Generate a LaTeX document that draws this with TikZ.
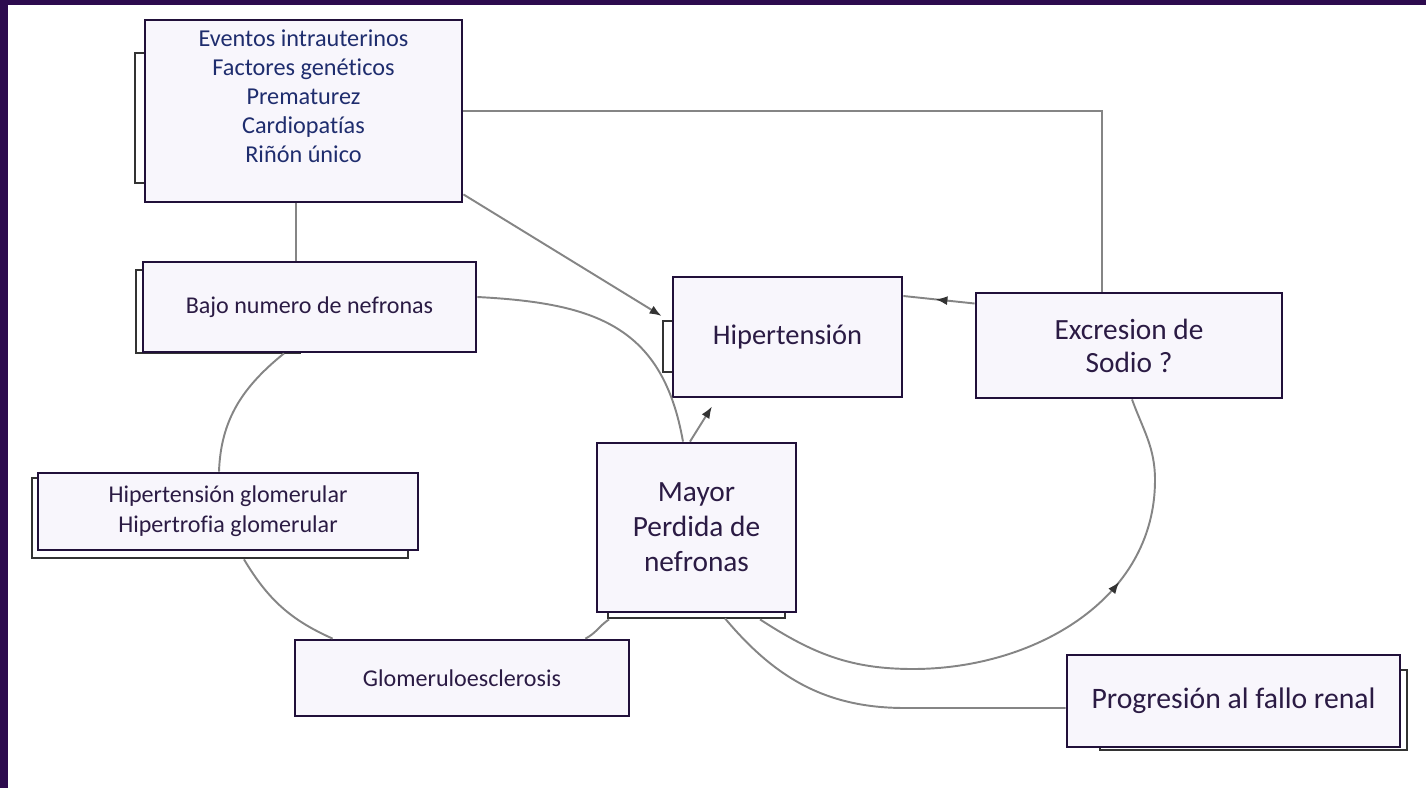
\documentclass[tikz,border=0pt]{standalone}
\usepackage{fontspec}
\setmainfont{Carlito}[Ligatures=NoCommon]
\usetikzlibrary{arrows.meta,decorations.markings,positioning}

\definecolor{framepurple}{HTML}{2D0B4E}
\definecolor{boxline}{HTML}{21103A}
\definecolor{boxfill}{HTML}{F8F6FC}
\definecolor{boxtext}{HTML}{2B1B44}
\definecolor{listtext}{HTML}{1F2D6E}
\definecolor{linkgray}{HTML}{858585}

\tikzset{
  causebox/.style={draw=boxline, line width=1.6pt, fill=boxfill, text=boxtext, align=center, inner sep=0pt},
  shadowbox/.style={draw=black!80, line width=0.9pt, fill=white},
  link/.style={draw=linkgray, line width=1.1pt},
  tipend/.style={-{Latex[length=0.24cm,width=0.18cm,color=black!80]}},
  tipmid/.style={postaction={decorate}, decoration={markings, mark=at position #1 with {\arrow{Latex[length=0.24cm,width=0.18cm,color=black!80]}}}},
}

\begin{document}
\begin{tikzpicture}
  \useasboundingbox (0,0) rectangle (28.52,-15.76);
  \fill [framepurple] (0,0) rectangle (28.52,-0.1);
  \fill [framepurple] (0,0) rectangle (0.16,-15.76);

  % cajas de fondo
  \draw [shadowbox] (2.70,-1.06) rectangle (4.0,-3.66);
  \draw [shadowbox] (2.72,-5.40) rectangle (6.0,-7.06);
  \draw [shadowbox] (13.26,-6.42) rectangle (14.4,-7.44);
  \draw [shadowbox] (0.64,-9.56) rectangle (8.16,-11.16);
  \draw [shadowbox] (12.16,-9.0) rectangle (15.70,-12.36);
  \draw [shadowbox] (22.0,-13.4) rectangle (28.14,-15.0);

  \node [causebox, text=listtext] (ev) at (6.07,-2.22)
    {\parbox[c][3.64cm][t]{6.34cm}{\centering\fontsize{13.8}{16.5}\selectfont\vspace*{5.5pt}%
      Eventos intrauterinos\\Factores genéticos\\Prematurez\\Cardiopatías\\Riñón único}};
  \node [causebox, minimum width=6.66cm, minimum height=1.8cm, font=\fontsize{13.7}{17}\selectfont] (bajo) at (6.19,-6.14) {Bajo numero de nefronas};
  \node [causebox, minimum width=4.58cm, minimum height=2.4cm, font=\fontsize{16.2}{19}\selectfont] (hip) at (15.75,-6.74) {Hipertensión};
  \node [causebox, minimum width=6.12cm, minimum height=2.1cm, font=\fontsize{16.7}{18.8}\selectfont] (exc) at (22.58,-6.91) {Excresion de\\Sodio ?};
  \node [causebox, minimum width=7.6cm, minimum height=1.54cm, font=\fontsize{13.7}{17}\selectfont] (hipglom) at (4.56,-10.23) {Hipertensión glomerular\\Hipertrofia glomerular};
  \node [causebox, minimum width=3.98cm, minimum height=3.38cm, font=\fontsize{16.7}{19.9}\selectfont] (mayor) at (13.93,-10.55) {Mayor\\Perdida de\\nefronas};
  \node [causebox, minimum width=6.68cm, minimum height=1.52cm, font=\fontsize{13.7}{17}\selectfont] (glom) at (9.24,-13.56) {Glomeruloesclerosis};
  \node [causebox, minimum width=6.66cm, minimum height=1.84cm, font=\fontsize{16.9}{20}\selectfont] (prog) at (24.67,-14.02) {Progresión al fallo renal};

  \draw [link] ([xshift=-0.15cm]ev.south) -- ([xshift=-0.15cm]ev.south |- bajo.north);
  \draw [link] (ev.east) -| ([xshift=-0.54cm]exc.north);
  \draw [link, tipend] ([yshift=0.18cm]ev.south east) -- ([xshift=-0.2cm,yshift=0.42cm]hip.west);
  \draw [link, tipmid=0.55] ([yshift=0.84cm]exc.west) -- ([yshift=0.82cm]hip.east);
  \draw [link, tipend] ([xshift=-0.13cm]mayor.north) -- ([xshift=-1.51cm,yshift=-0.16cm]hip.south);

  % ciclo izquierdo
  \draw [link] ([yshift=0.2cm]bajo.east) to [out=-3,in=100,looseness=1.2] ([xshift=-0.27cm]mayor.north);
  \draw [link] ([xshift=-0.51cm]bajo.south) to [out=219,in=88] ([xshift=-0.18cm]hipglom.north);
  \draw [link] ([xshift=0.32cm,yshift=-0.16cm]hipglom.south) to [out=-59,in=156] ([xshift=0.78cm]glom.north west);
  \draw [link] ([xshift=-0.9cm]glom.north east) to [out=27,in=214] ([xshift=-1.75cm,yshift=-0.12cm]mayor.south);

  % ciclo derecho
  \draw [link, tipmid=0.67] ([xshift=1.27cm,yshift=-0.12cm]mayor.south) to [out=-33,in=180] (18.26,-13.38)
    to [out=0,in=-90] (23.10,-9.6) to [out=90,in=-70] ([xshift=0.06cm]exc.south);
  \draw [link] ([xshift=0.57cm,yshift=-0.1cm]mayor.south) to [out=-50,in=180] (18.1,-14.16) -- ([yshift=-0.14cm]prog.west);
\end{tikzpicture}
\end{document}
